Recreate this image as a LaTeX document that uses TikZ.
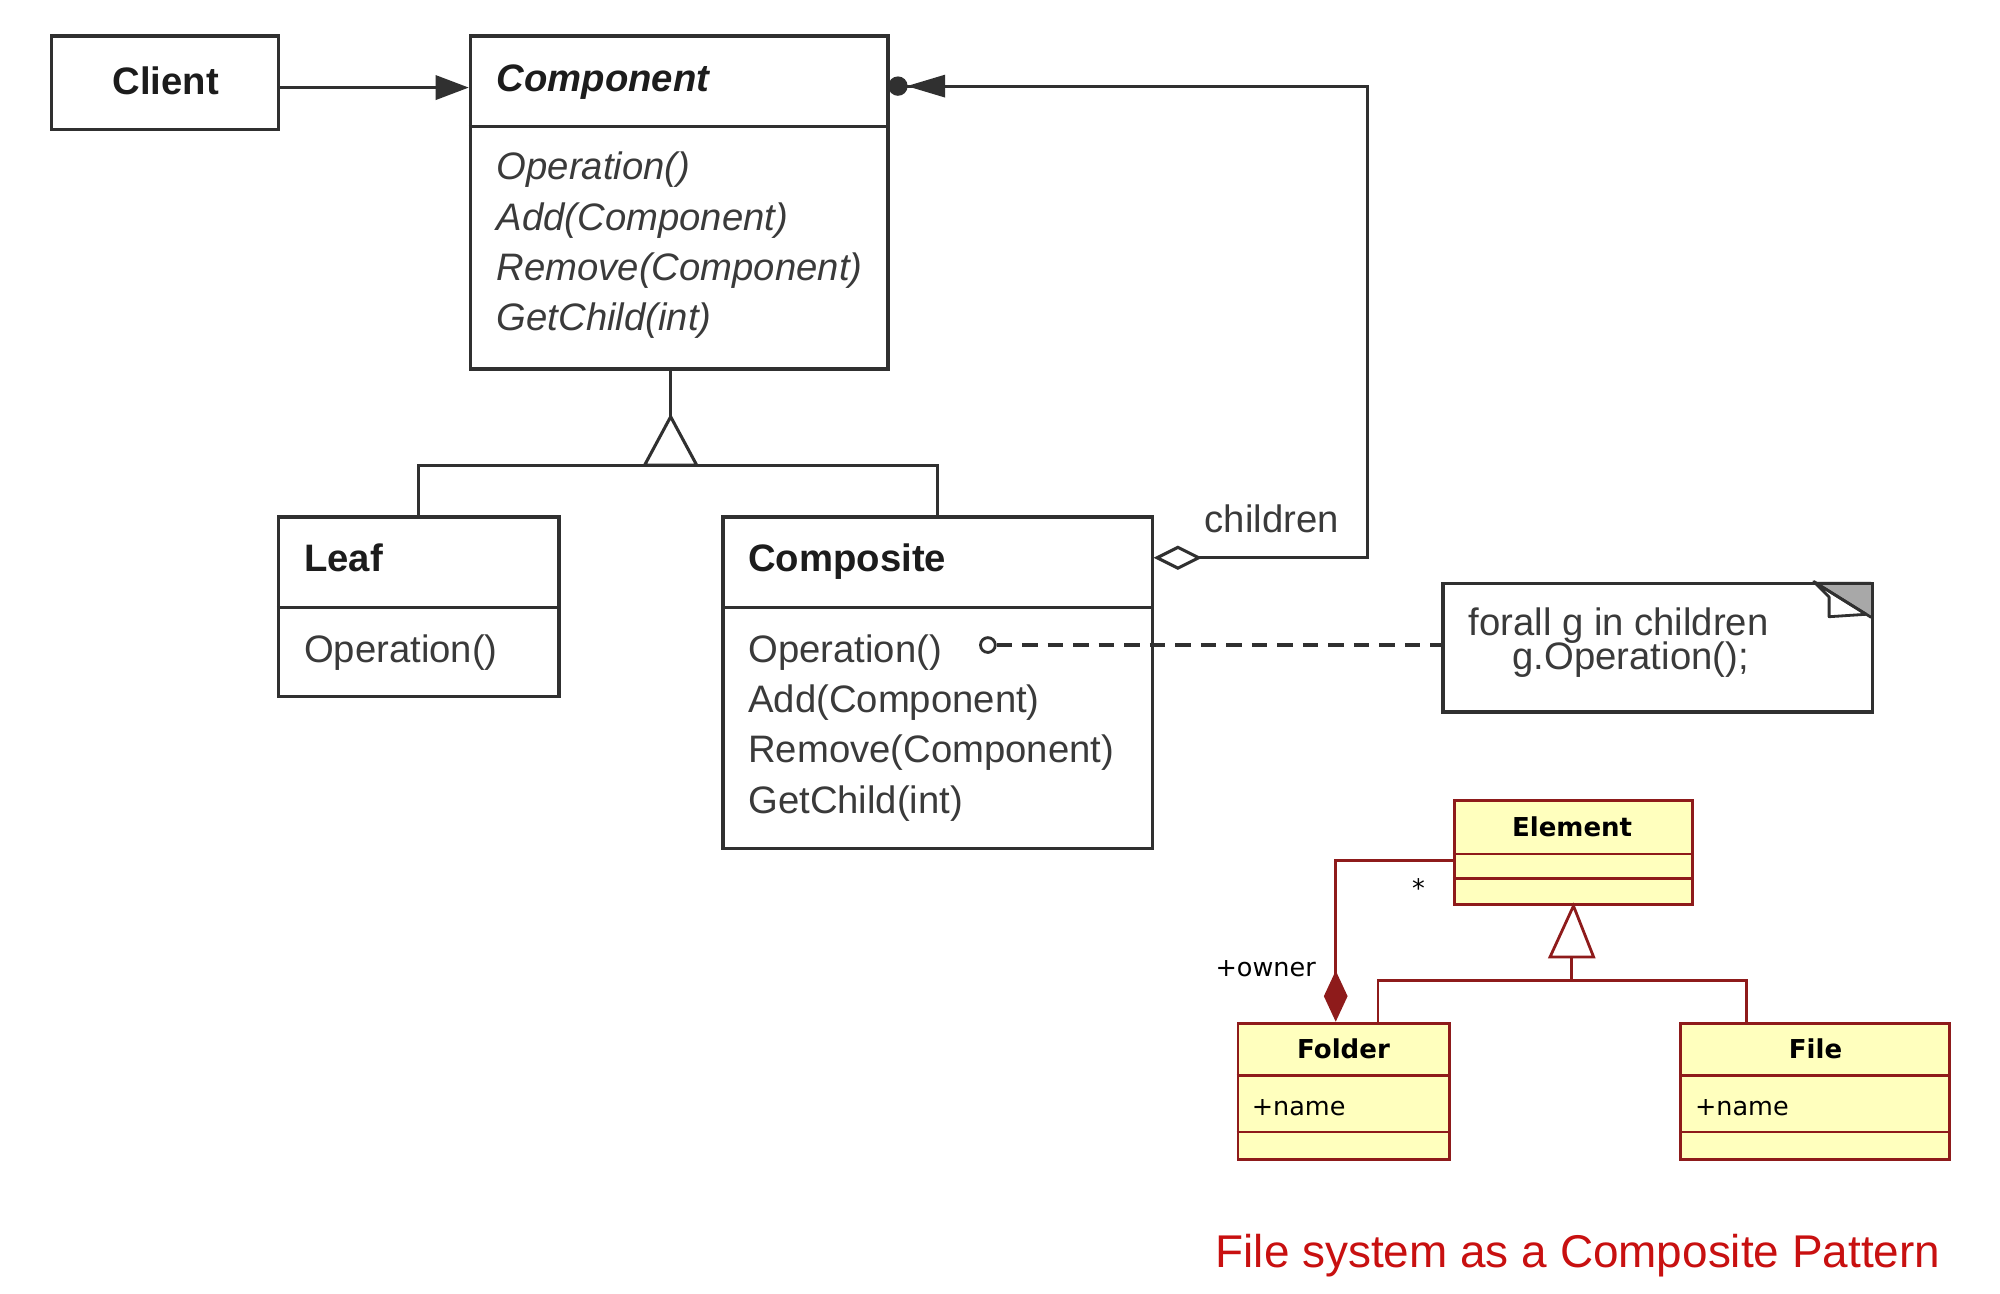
\documentclass[tikz,border=0pt]{standalone}
\usepackage{fontspec}
\setmainfont{Liberation Sans}
\newfontfamily\dvs{DejaVu Sans}
\usetikzlibrary{arrows.meta}
\definecolor{ln}{HTML}{303030}
\definecolor{tt}{HTML}{1C1C1C}
\definecolor{mt}{HTML}{3A3A3A}
\definecolor{mar}{HTML}{8E1B1B}
\definecolor{yel}{RGB}{255,255,190}
\definecolor{capred}{RGB}{200,16,16}
\definecolor{foldg}{HTML}{A8A8A8}
\begin{document}
\begin{tikzpicture}[x=0.5pt,y=-0.5pt,
  box/.style={draw=ln,line width=1.25pt,rectangle,inner sep=0pt,anchor=north west},
  ubox/.style={draw=mar,fill=yel,line width=1.1pt,rectangle,inner sep=0pt,anchor=north west},
  conn/.style={draw=ln,line width=1.2pt},
  uconn/.style={draw=mar,line width=1.1pt},
  ttl/.style={font=\fontsize{15pt}{18pt}\selectfont\bfseries,text=tt,inner sep=0pt},
  ittl/.style={font=\fontsize{15pt}{18pt}\selectfont\bfseries\itshape,text=tt,inner sep=0pt,anchor=base west},
  mth/.style={font=\fontsize{15pt}{18pt}\selectfont,text=mt,inner sep=0pt,anchor=base west},
  imth/.style={font=\fontsize{15pt}{18pt}\selectfont\itshape,text=mt,inner sep=0pt,anchor=base west},
  uttl/.style={font=\dvs\fontsize{10.2pt}{12pt}\selectfont\bfseries,text=black,inner sep=0pt,anchor=base},
  utxt/.style={font=\dvs\fontsize{10pt}{12pt}\selectfont,text=black,inner sep=0pt,anchor=base west}
]
\fill[white] (0,0) rectangle (1568,1014);
\useasboundingbox (0,0) rectangle (1568,1014);

% ---------- GoF diagram ----------
\node[box,minimum width=89pt,minimum height=36.5pt] (client) at (39,27) {};
\node[ttl,anchor=base] (tclient) at (130,74) {Client};

\node[box,minimum width=163.75pt,minimum height=130.5pt] (component) at (367.5,27) {};
\draw[conn] (367.5,99) -- (695,99);
\node[ittl] (tcomponent) at (389,72) {Component};
\node[imth] (cm1) at (389,141) {Operation()};
\node[imth] (cm2) at (389,180.5) {Add(Component)};
\node[imth] (cm3) at (389,219.8) {Remove(Component)};
\node[imth] (cm4) at (389,259) {GetChild(int)};

\node[box,minimum width=110pt,minimum height=70.5pt] (leaf) at (217,404) {};
\draw[conn] (217,476) -- (437,476);
\node[ttl,anchor=base west] (tleaf) at (238,448) {Leaf};
\node[mth] (lm1) at (238,519) {Operation()};

\node[box,minimum width=168.25pt,minimum height=130pt] (composite) at (565.5,404) {};
\draw[conn] (565.5,476) -- (902,476);
\node[ttl,anchor=base west] (tcomposite) at (586.3,448) {Composite};
\node[mth] (pm1) at (586.3,519) {Operation()};
\node[mth] (pm2) at (586.3,558.5) {Add(Component)};
\node[mth] (pm3) at (586.3,598) {Remove(Component)};
\node[mth] (pm4) at (586.3,637.5) {GetChild(int)};

% note with folded corner
\fill[foldg] (1422,456) -- (1467,456) -- (1467,484) -- cycle;
\draw[ln,line width=1.1pt,fill=white,line join=round] (1422,456) -- (1434,468) -- (1434,483.5) -- (1463,481.6) -- cycle;
\draw[ln,line width=1.1pt] (1422,456) -- (1467,484);
\node[box,minimum width=168.5pt,minimum height=50.5pt] (note) at (1130,456) {};
\node[mth] (n1) at (1151,498) {forall g in children};
\node[mth] (n2) at (1185.5,525) {g.Operation();};

% client -> component
\coordinate (cl) at ([yshift=-1.95pt]client.east);
\draw[conn,-{Triangle[length=13pt,width=9.5pt]}] (cl) -- (cl -| component.west);

% inheritance
\coordinate (uapex) at (525.8,326.7);
\coordinate (ubar) at (525.8,364.6);
\draw[conn] (uapex |- component.south) -- (uapex);
\draw[conn] (leaf.north) |- (ubar) -| (composite.north);
\draw[conn,fill=white,line join=miter] (uapex) -- (505.4,364.6) -- (546.2,364.6) -- cycle;

% aggregation children
\coordinate (loopc) at (1072,67.5);
\draw[conn,{Diamond[open,length=19pt,width=9.5pt]}-] ([yshift=49pt]composite.east) -| (loopc) -- (loopc -| component.east);
\fill[ln] (704,67.5) circle (3.8pt);
\fill[ln] (711,67.5) -- (741,58.5) -- (741,76.5) -- cycle;
\node[font=\fontsize{15pt}{18pt}\selectfont,text=mt,inner sep=0pt,anchor=base west] (lchildren) at (944,417.5) {children};

% note link
\node[circle,draw=ln,line width=1.1pt,fill=white,inner sep=0pt,minimum size=5.8pt] (opdot) at (774.5,505.7) {};
\draw[conn,line width=1.3pt,dash pattern=on 6pt off 4pt] (opdot.east) -- (opdot.east -| note.west);

% ---------- File system UML ----------
\node[ubox,minimum width=93.5pt,minimum height=40.75pt] (element) at (1139,626.5) {};
\draw[uconn] (1139,669.5) -- (1326,669.5);
\draw[uconn] (1139,688.5) -- (1326,688.5);
\node[uttl] (telement) at (1232.5,656) {Element};

\node[ubox,minimum width=83pt,minimum height=53.5pt] (folder) at (969.5,801) {};
\draw[uconn] (969.5,843.2) -- (1135.5,843.2);
\draw[uconn] (969.5,887.4) -- (1135.5,887.4);
\node[uttl] (tfolder) at (1053.3,829.6) {Folder};
\node[utxt] (fname) at (981,874.4) {+name};

\node[ubox,minimum width=105.25pt,minimum height=53.5pt] (file) at (1316.5,801) {};
\draw[uconn] (1316.5,843.2) -- (1527,843.2);
\draw[uconn] (1316.5,887.4) -- (1527,887.4);
\node[uttl] (tfile) at (1423.4,829.6) {File};
\node[utxt] (flname) at (1328.5,874.4) {+name};

% generalization
\coordinate (gapex) at (element.south);
\coordinate (gbar) at (1232.3,768.6);
\coordinate (fdc) at ([xshift=13.4pt]folder.north);
\coordinate (flc) at ([xshift=-26.8pt]file.north);
\draw[uconn] (fdc) |- (gbar) -| (flc);
\draw[uconn] (gbar) -- (1232.3,750.3);
\draw[uconn,fill=white,line join=miter] (gapex) -- (1215.2,750.3) -- (1249.4,750.3) -- cycle;

% composition
\coordinate (elw) at ([yshift=-3.1pt]element.west);
\coordinate (fdt) at ([xshift=-3.2pt]folder.north);
\draw[uconn,-{Diamond[length=20pt,width=9.3pt]}] (elw) -| (fdt);
\node[font=\dvs\fontsize{10pt}{12pt}\selectfont,inner sep=0pt,anchor=base] (star) at (1112,703.5) {*};
\node[utxt] (owner) at (952.6,765.8) {+owner};

% caption
\node[font=\fontsize{18pt}{21pt}\selectfont,text=capred,inner sep=0pt,anchor=base west] (caption) at (952.6,994) {File system as a Composite Pattern};
\end{tikzpicture}
\end{document}
